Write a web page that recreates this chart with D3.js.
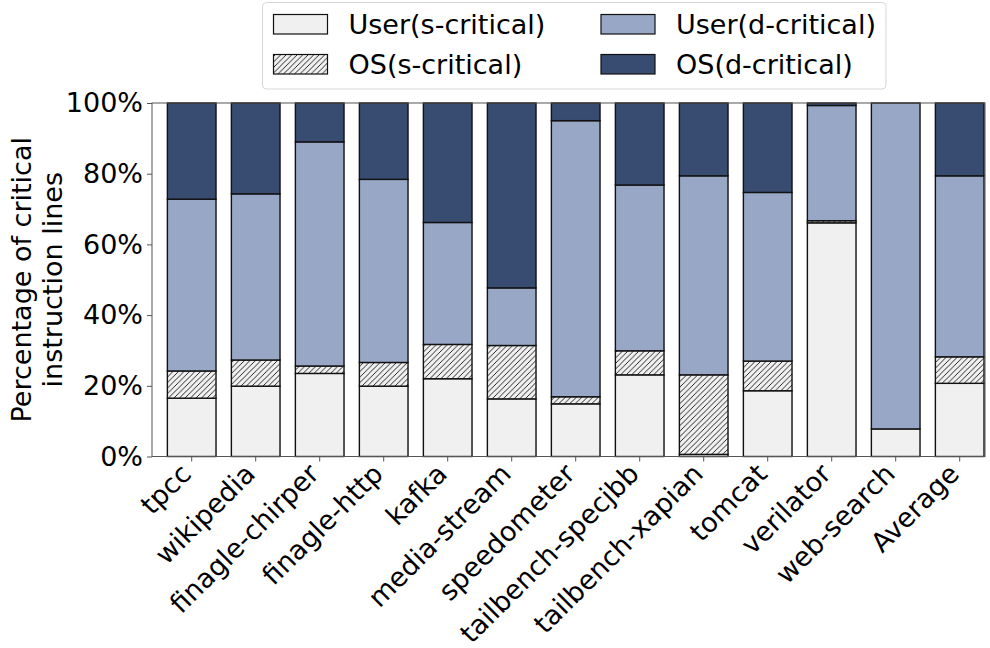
<!DOCTYPE html>
<html>
<head>
<meta charset="utf-8">
<script src="https://cdn.jsdelivr.net/npm/d3@7/dist/d3.min.js"></script>
<style>
  html, body { margin: 0; padding: 0; background: #fff; }
  svg { display: block; font-family: "DejaVu Sans", sans-serif; }
</style>
</head>
<body>
<svg id="chart" width="990" height="648"></svg>
<script>
// Workloads on the x axis
const categories = ["tpcc", "wikipedia", "finagle-chirper", "finagle-http", "kafka",
  "media-stream", "speedometer", "tailbench-specjbb", "tailbench-xapian", "tomcat",
  "verilator", "web-search", "Average"];

// Share of critical instruction lines (%) per class
const userS = [16.5, 19.9, 23.5, 19.9, 22.0, 16.3, 14.9, 23.1, 0.6, 18.6, 66.1, 7.8, 20.7];
const osS   = [7.7, 7.4, 2.1, 6.7, 9.7, 15.1, 2.0, 6.8, 22.5, 8.4, 0.6, 0.0, 7.5];
const userD = [48.6, 47.0, 63.4, 51.8, 34.5, 16.3, 78.1, 46.9, 56.3, 47.7, 32.6, 92.2, 51.2];
const osD   = [27.2, 25.7, 11.0, 21.6, 33.8, 52.3, 5.0, 23.2, 20.6, 25.3, 0.7, 0.0, 20.6];

const seriesNames = ["User(s-critical)", "OS(s-critical)", "User(d-critical)", "OS(d-critical)"];
const yTicks = [0, 20, 40, 60, 80, 100];

const keys = ["userS", "osS", "userD", "osD"];
const rows = categories.map((c, i) => ({
  name: c, userS: userS[i], osS: osS[i], userD: userD[i], osD: osD[i]
}));

const fills = {
  userS: "#eff0ef",
  osS: "url(#hatch)",
  userD: "#98a7c6",
  osD: "#384c72"
};

const fontSize = 27;

const svg = d3.select("#chart");
const defs = svg.append("defs");
const hs = 5.5;
const pat = defs.append("pattern")
  .attr("id", "hatch")
  .attr("patternUnits", "userSpaceOnUse")
  .attr("width", hs).attr("height", hs);
pat.append("rect").attr("width", hs).attr("height", hs).attr("fill", "#eff0ef");
pat.append("path")
  .attr("d", `M0,${hs} L${hs},0 M${-hs/4},${hs/4} L${hs/4},${-hs/4} M${hs*3/4},${hs*5/4} L${hs*5/4},${hs*3/4}`)
  .attr("stroke", "#111").attr("stroke-width", 0.9);

// Plot frame
const plotLeft = 152, plotRight = 985, plotTop = 103, plotBottom = 456.5;

const x = d3.scaleBand()
  .domain(categories)
  .range([159.7, 991.7])
  .paddingInner(0.24)
  .paddingOuter(0.12);

const y = d3.scaleLinear().domain([0, 100]).range([plotBottom, plotTop]);

const stack = d3.stack().keys(keys);
const layers = stack(rows);

const g = svg.append("g");
g.selectAll("g.layer")
  .data(layers)
  .join("g")
  .attr("class", "layer")
  .attr("fill", d => fills[d.key])
  .selectAll("rect")
  .data(d => d)
  .join("rect")
  .attr("x", d => x(d.data.name))
  .attr("width", x.bandwidth())
  .attr("y", d => y(d[1]))
  .attr("height", d => y(d[0]) - y(d[1]))
  .attr("stroke", "#111")
  .attr("stroke-width", 1.4);

// Frame
svg.append("rect")
  .attr("x", plotLeft).attr("y", plotTop)
  .attr("width", plotRight - plotLeft).attr("height", plotBottom - plotTop)
  .attr("fill", "none").attr("stroke", "#555").attr("stroke-width", 1);

// Y axis
const yAxis = svg.append("g")
  .attr("transform", `translate(${plotLeft},0)`)
  .call(d3.axisLeft(y).tickValues(yTicks).tickFormat(d => d + "%").tickSize(5).tickPadding(4));
yAxis.select(".domain").remove();
yAxis.selectAll(".tick line").attr("stroke", "#555");
yAxis.selectAll("text")
  .attr("font-size", fontSize)
  .attr("fill", "#000")
  .attr("font-family", "DejaVu Sans");

// X axis
const xAxis = svg.append("g")
  .attr("transform", `translate(0,${plotBottom})`)
  .call(d3.axisBottom(x).tickSize(5).tickFormat(""));
xAxis.select(".domain").remove();
xAxis.selectAll(".tick line").attr("stroke", "#555");
xAxis.selectAll(".tick")
  .append("text")
  .attr("text-anchor", "end")
  .attr("fill", "#000")
  .attr("font-size", fontSize)
  .attr("font-family", "DejaVu Sans")
  .attr("transform", "translate(1,19) rotate(-45)")
  .text(d => d);

// Y label
const yl = svg.append("text")
  .attr("transform", `translate(0,${(plotTop + plotBottom) / 2}) rotate(-90)`)
  .attr("text-anchor", "middle")
  .attr("font-size", fontSize)
  .attr("fill", "#000");
yl.append("tspan").attr("x", 0).attr("y", 31).text("Percentage of critical");
yl.append("tspan").attr("x", 0).attr("y", 62).text("instruction lines");

// Legend
const legend = svg.append("g");
legend.append("rect")
  .attr("x", 262.5).attr("y", 2.5)
  .attr("width", 623.5).attr("height", 86.5)
  .attr("rx", 4)
  .attr("fill", "#fff").attr("stroke", "#d6d6d6").attr("stroke-width", 1);
const legendPos = [
  { key: "userS", x: 273.5, y: 14.5 },
  { key: "osS", x: 273.5, y: 54.5 },
  { key: "userD", x: 601, y: 14.5 },
  { key: "osD", x: 601, y: 54.5 }
];
legendPos.forEach((p, i) => {
  legend.append("rect")
    .attr("x", p.x).attr("y", p.y)
    .attr("width", 54).attr("height", 19.5)
    .attr("fill", fills[p.key])
    .attr("stroke", "#111").attr("stroke-width", 1.2);
  legend.append("text")
    .attr("x", p.x + 75).attr("y", p.y + 19.5)
    .attr("font-size", fontSize)
    .attr("fill", "#000")
    .text(seriesNames[i]);
});
</script>
</body>
</html>
